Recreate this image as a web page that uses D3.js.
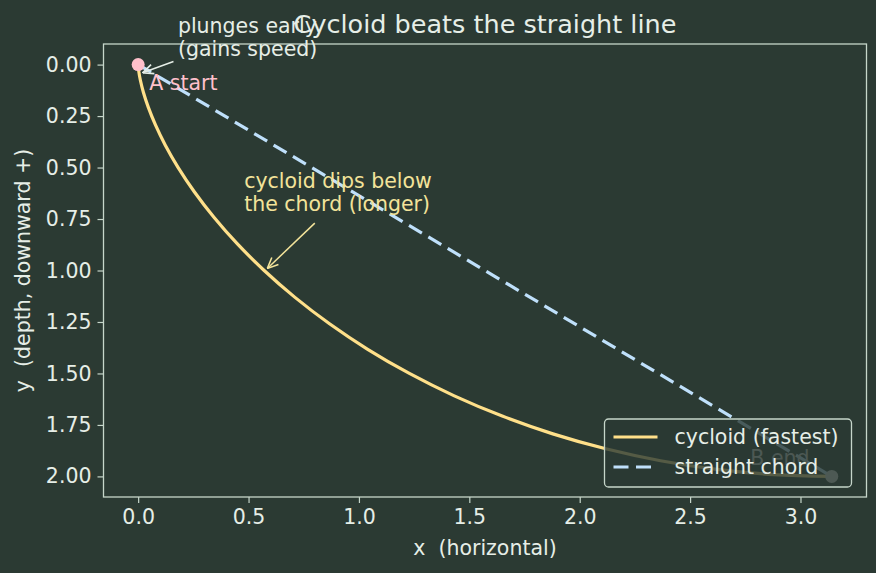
<!DOCTYPE html>
<html>
<head>
<meta charset="utf-8">
<script src="https://cdn.jsdelivr.net/npm/d3@7"></script>
<style>
  html, body { margin: 0; padding: 0; background: #2b3a33; }
  svg { display: block; font-family: "DejaVu Sans", sans-serif; }
  text { white-space: pre; }
</style>
</head>
<body>
<svg id="chart"></svg>
<script>
const W = 876;
const H = 573;

const cycloidX = [0, 0.0004, 0.0030, 0.0100, 0.0236, 0.0457, 0.0783, 0.1229, 0.1812, 0.2542, 0.3431, 0.4485, 0.5708,
	0.7103, 0.8667, 1.0396, 1.2284, 1.4319, 1.6491, 1.8783, 2.1180, 2.3662, 2.6210, 2.8802, 3.1416];
const cycloidY = [0, 0.0086, 0.0341, 0.0761, 0.1340, 0.2066, 0.2929, 0.3912, 0.5, 0.6173, 0.7412, 0.8695, 1.0,
	1.1305, 1.2588, 1.3827, 1.5, 1.6088, 1.7071, 1.7934, 1.8660, 1.9239, 1.9659, 1.9914, 2.0];
const chordX = [0, 3.1416];
const chordY = [0, 2.0];
const xTicks = [0.0, 0.5, 1.0, 1.5, 2.0, 2.5, 3.0];
const yTicks = [0.00, 0.25, 0.50, 0.75, 1.00, 1.25, 1.50, 1.75, 2.00];
const legendLabels = ["cycloid (fastest)", "straight chord"];

const bg = "#2b3a33";
const fg = "#e6eee7";
const spine = "#c6d6ca";
const cycColor = "#ffe08a";
const chordColor = "#bfe0fb";
const fs = 20.5;
const dash = "15,7.5";

const margin = { top: 44, right: 9.5, bottom: 76, left: 103.5 };
const iw = W - margin.left - margin.right;
const ih = H - margin.top - margin.bottom;

let svg = d3.select("#chart").attr("width", W).attr("height", H);
svg.append("rect").attr("width", W).attr("height", H).attr("fill", bg);

let x = d3.scaleLinear().domain([-0.157, 3.299]).range([0, iw]);
let y = d3.scaleLinear().domain([-0.1, 2.1]).range([0, ih]);

let g = svg.append("g").attr("transform", `translate(${margin.left},${margin.top})`);

// axes
let xAxis = g.append("g").attr("transform", `translate(0,${ih})`)
	.call(d3.axisBottom(x).tickValues(xTicks).tickFormat(d3.format(".1f")).tickSize(6).tickPadding(6));
let yAxis = g.append("g")
	.call(d3.axisLeft(y).tickValues(yTicks).tickFormat(d3.format(".2f")).tickSize(6).tickPadding(6));
[xAxis, yAxis].forEach(a => {
	a.select(".domain").remove();
	a.selectAll("line").attr("stroke", spine).attr("stroke-width", 1.2);
	a.selectAll("text").attr("fill", fg).attr("font-size", fs).attr("font-family", "DejaVu Sans");
});

g.append("rect").attr("width", iw).attr("height", ih)
	.attr("fill", "none").attr("stroke", spine).attr("stroke-width", 1.3);

let line = d3.line().x(d => x(d[0])).y(d => y(d[1]));
let cycPts = cycloidX.map((v, i) => [v, cycloidY[i]]);
let chordPts = chordX.map((v, i) => [v, chordY[i]]);

g.append("path").datum(cycPts)
	.attr("d", line.curve(d3.curveCatmullRom.alpha(0.5)))
	.attr("fill", "none").attr("stroke", cycColor).attr("stroke-width", 3.2);
g.append("path").datum(chordPts)
	.attr("d", d3.line().x(d => x(d[0])).y(d => y(d[1])))
	.attr("fill", "none").attr("stroke", chordColor).attr("stroke-width", 3.2)
	.attr("stroke-dasharray", dash);

// end points
g.append("circle").attr("cx", x(chordX[0])).attr("cy", y(chordY[0])).attr("r", 6.5).attr("fill", "#ffc0cb");
g.append("circle").attr("cx", x(chordX[1])).attr("cy", y(chordY[1])).attr("r", 6.5).attr("fill", "#d8d8d8");

g.append("text").attr("x", x(0.05)).attr("y", y(0.0) + 25).text("A start")
	.attr("fill", "#ffc0cb").attr("font-size", fs);
g.append("text").attr("x", x(2.773)).attr("y", y(1.945)).text("B end")
	.attr("fill", "#d0d0d0").attr("font-size", fs);

// arrow heads
let defs = svg.append("defs");
function marker(id, color) {
	defs.append("marker").attr("id", id).attr("viewBox", "0 0 10 10")
		.attr("refX", 10).attr("refY", 5).attr("markerWidth", 12).attr("markerHeight", 12)
		.attr("markerUnits", "userSpaceOnUse").attr("orient", "auto")
		.append("path").attr("d", "M1,1 L10,5 L1,9").attr("fill", "none")
		.attr("stroke", color).attr("stroke-width", 1.3);
}
marker("arW", fg);
marker("arY", "#f3e39a");

// annotation: plunges early
g.append("line").attr("x1", x(0.16)).attr("y1", y(-0.015))
	.attr("x2", x(0.02)).attr("y2", y(0.04))
	.attr("stroke", fg).attr("stroke-width", 1.5).attr("marker-end", "url(#arW)");
let t1 = g.append("text").attr("fill", fg).attr("font-size", fs);
t1.append("tspan").attr("x", x(0.18)).attr("y", y(-0.1) - 11).text("plunges early");
t1.append("tspan").attr("x", x(0.18)).attr("y", y(-0.1) + 12).text("(gains speed)");

// annotation: cycloid dips below the chord
g.append("line").attr("x1", x(0.8)).attr("y1", y(0.77))
	.attr("x2", x(0.585)).attr("y2", y(0.99))
	.attr("stroke", "#f3e39a").attr("stroke-width", 1.5).attr("marker-end", "url(#arY)");
let t2 = g.append("text").attr("fill", "#f3e39a").attr("font-size", fs);
t2.append("tspan").attr("x", x(0.48)).attr("y", y(0.6)).text("cycloid dips below");
t2.append("tspan").attr("x", x(0.48)).attr("y", y(0.6) + 23).text("the chord (longer)");

// legend
let lg = g.append("g").attr("transform", `translate(${iw - 262},${ih - 78})`);
lg.append("rect").attr("width", 247).attr("height", 68).attr("rx", 4)
	.attr("fill", bg).attr("fill-opacity", 0.8).attr("stroke", spine).attr("stroke-width", 1.3);
legendLabels.forEach((lab, i) => {
	let yy = 18 + i * 30;
	lg.append("line").attr("x1", 9).attr("x2", 53).attr("y1", yy).attr("y2", yy)
		.attr("stroke", i === 0 ? cycColor : chordColor).attr("stroke-width", 3.2)
		.attr("stroke-dasharray", i === 0 ? null : dash);
	lg.append("text").attr("x", 70).attr("y", yy + 7).text(lab)
		.attr("fill", fg).attr("font-size", fs);
});

// title and axis labels
svg.append("text").attr("x", margin.left + iw / 2).attr("y", 33).attr("text-anchor", "middle")
	.text("Cycloid beats the straight line").attr("fill", fg).attr("font-size", 25.5);
svg.append("text").attr("x", margin.left + iw / 2).attr("y", 555).attr("text-anchor", "middle")
	.text("x  (horizontal)").attr("fill", fg).attr("font-size", fs);
svg.append("text").attr("transform", `translate(30,${margin.top + ih / 2}) rotate(-90)`)
	.attr("text-anchor", "middle")
	.text("y  (depth, downward +)").attr("fill", fg).attr("font-size", fs);
</script>
</body>
</html>
